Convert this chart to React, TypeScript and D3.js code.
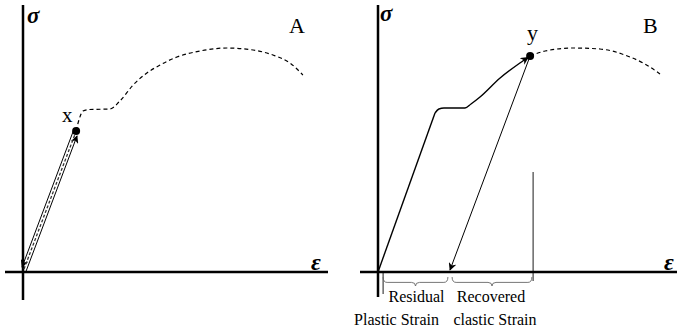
import React from 'react';
import * as d3 from 'd3';

// Panel A: elastic loading to point x, then the rest of the curve (dashed)
const curveA: [number, number][] = [
  [17.7, 56.4], [18.7, 61], [20, 64.4], [22, 65], [29, 65.2], [32.3, 68.4],
  [36.7, 74.8], [41.3, 79.6], [45.7, 82.8], [51.3, 86], [59, 88.4],
  [68, 89.6], [76.7, 88.8], [83.3, 86.8], [89, 83.6], [93.3, 78.8],
];
const pointX: [number, number] = [17.7, 56.4];

// Panel B: straight elastic part, then plateau and hardening up to point y, dashed remainder
const elasticB: [number, number][] = [[0, 0], [19, 63.6]];
const hardenB: [number, number][] = [
  [19, 63.6], [20.3, 65.2], [22, 65.6], [29, 65.6], [31, 67.2],
  [34, 70], [40.7, 77.6], [47.3, 83.6], [50.7, 86.4],
];
const tailB: [number, number][] = [
  [50.7, 86.4], [55.7, 88.4], [65, 89.6], [74, 89.2], [84, 86], [89, 83.2], [94, 79.2],
];
const pointY: [number, number] = [50.7, 86.4];
const unloadEnd: [number, number] = [24, 0];
const markerLineX = 51.7;
const braces = [
  { from: 1.7, to: 23.3, top: 'Residual', bottom: 'Plastic Strain' },
  { from: 24.7, to: 51.3, top: 'Recovered', bottom: 'clastic Strain' },
];

const W = 677;
const H = 329;
const FONT = '"Liberation Serif", "Times New Roman", serif';

function bracePath(x1: number, x2: number, y: number, h: number) {
  const m = (x1 + x2) / 2;
  const r = 4;
  const yb = y + h * 0.6;
  return `M${x1},${y} Q${x1},${yb} ${x1 + r},${yb} L${m - r},${yb} Q${m},${yb} ${m},${y + h} Q${m},${yb} ${m + r},${yb} L${x2 - r},${yb} Q${x2},${yb} ${x2},${y}`;
}

function Panel({ ox, children }: { ox: number; children: (x: d3.ScaleLinear<number, number>, y: d3.ScaleLinear<number, number>) => React.ReactNode }) {
  const x = d3.scaleLinear().domain([0, 100]).range([ox, ox + 300]);
  const y = d3.scaleLinear().domain([0, 100]).range([272, 22]);
  return <g>{children(x, y)}</g>;
}

export default function App() {
  return (
    <div style={{ position: 'fixed', left: 0, top: 0 }}>
      <svg width={W} height={H} style={{ display: 'block', background: '#fff' }}>
        <defs>
          <marker id="arr" viewBox="0 0 10 10" refX="9" refY="5" markerWidth="8" markerHeight="8" orient="auto-start-reverse" markerUnits="userSpaceOnUse">
            <path d="M0,0 L10,5 L0,10 L3,5 z" fill="#000" />
          </marker>
        </defs>
        <Panel ox={23}>
          {(x, y) => {
            const line = d3.line<[number, number]>().x(d => x(d[0])).y(d => y(d[1])).curve(d3.curveMonotoneX);
            const x0 = x(0), y0 = y(0), x1 = x(pointX[0]), y1 = y(pointX[1]);
            const len = Math.hypot(x1 - x0, y1 - y0);
            const nx = -(y1 - y0) / len, ny = (x1 - x0) / len;
            const off = 2.6;
            return (
              <g>
                <line x1={x(0)} x2={x(0)} y1={5} y2={300} stroke="#000" strokeWidth={2.5} />
                <line x1={5} x2={328} y1={y(0)} y2={y(0)} stroke="#000" strokeWidth={2.5} />
                <path d={line(curveA) ?? ''} fill="none" stroke="#000" strokeWidth={1.2} strokeDasharray="4,3" />
                <line x1={x0 + nx * off} y1={y0 + ny * off} x2={x1 + nx * off - 1.5} y2={y1 + ny * off + 4} stroke="#000" strokeWidth={1} markerEnd="url(#arr)" />
                <line x1={x1 - nx * off} y1={y1 - ny * off} x2={x0 - nx * off + 1.5} y2={y0 - ny * off - 4} stroke="#000" strokeWidth={1} markerEnd="url(#arr)" />
                <line x1={x0 + 1} y1={y0 - 3} x2={x1 - 1} y2={y1 + 3} stroke="#333" strokeWidth={1.3} strokeDasharray="3,2" />
                <circle cx={x1} cy={y1} r={4} fill="#000" />
                <text x={62} y={122} fontFamily={FONT} fontSize={21}>x</text>
                <text x={27} y={23} fontFamily={FONT} fontSize={23} fontStyle="italic" fontWeight="bold">σ</text>
                <text x={289} y={33} fontFamily={FONT} fontSize={22}>A</text>
                <text x={311} y={270} fontFamily={FONT} fontSize={24} fontStyle="italic" fontWeight="bold">ε</text>
              </g>
            );
          }}
        </Panel>
        <Panel ox={378}>
          {(x, y) => {
            const straight = d3.line<[number, number]>().x(d => x(d[0])).y(d => y(d[1]));
            const smooth = d3.line<[number, number]>().x(d => x(d[0])).y(d => y(d[1])).curve(d3.curveMonotoneX);
            const yTop = y(0);
            return (
              <g>
                <line x1={x(0)} x2={x(0)} y1={5} y2={297} stroke="#000" strokeWidth={2.5} />
                <line x1={360} x2={677} y1={yTop} y2={yTop} stroke="#000" strokeWidth={2.5} />
                <path d={straight(elasticB) ?? ''} fill="none" stroke="#000" strokeWidth={1.4} />
                <path d={smooth(hardenB) ?? ''} fill="none" stroke="#000" strokeWidth={1.4} />
                <line x1={x(47)} y1={y(83.4)} x2={x(pointY[0]) - 2} y2={y(pointY[1]) + 1.5} stroke="none" markerEnd="url(#arr)" />
                <path d={smooth(tailB) ?? ''} fill="none" stroke="#000" strokeWidth={1.2} strokeDasharray="4,3" />
                <line x1={x(pointY[0])} y1={y(pointY[1])} x2={x(unloadEnd[0])} y2={y(unloadEnd[1]) - 2} stroke="#000" strokeWidth={1} markerEnd="url(#arr)" />
                <line x1={x(markerLineX)} x2={x(markerLineX)} y1={172} y2={281} stroke="#000" strokeWidth={0.9} />
                <line x1={x(1.7)} x2={x(1.7)} y1={yTop} y2={294} stroke="#000" strokeWidth={0.9} />
                {braces.map(b => (
                  <g key={b.top}>
                    <path d={bracePath(x(b.from), x(b.to), yTop + 5, 9)} fill="none" stroke="#666" strokeWidth={0.9} />
                    <text x={(x(b.from) + x(b.to)) / 2 + (b.top === 'Residual' ? 1 : -1)} y={302} textAnchor="middle" fontFamily={FONT} fontSize={16}>{b.top}</text>
                    <text x={(x(b.from) + x(b.to)) / 2 + (b.top === 'Residual' ? -19 : 3)} y={325} textAnchor="middle" fontFamily={FONT} fontSize={16}>{b.bottom}</text>
                  </g>
                ))}
                <circle cx={x(pointY[0])} cy={y(pointY[1])} r={4} fill="#000" />
                <text x={527} y={40} fontFamily={FONT} fontSize={22}>y</text>
                <text x={380} y={21} fontFamily={FONT} fontSize={23} fontStyle="italic" fontWeight="bold">σ</text>
                <text x={643} y={33} fontFamily={FONT} fontSize={22}>B</text>
                <text x={664} y={270} fontFamily={FONT} fontSize={24} fontStyle="italic" fontWeight="bold">ε</text>
              </g>
            );
          }}
        </Panel>
      </svg>
    </div>
  );
}
